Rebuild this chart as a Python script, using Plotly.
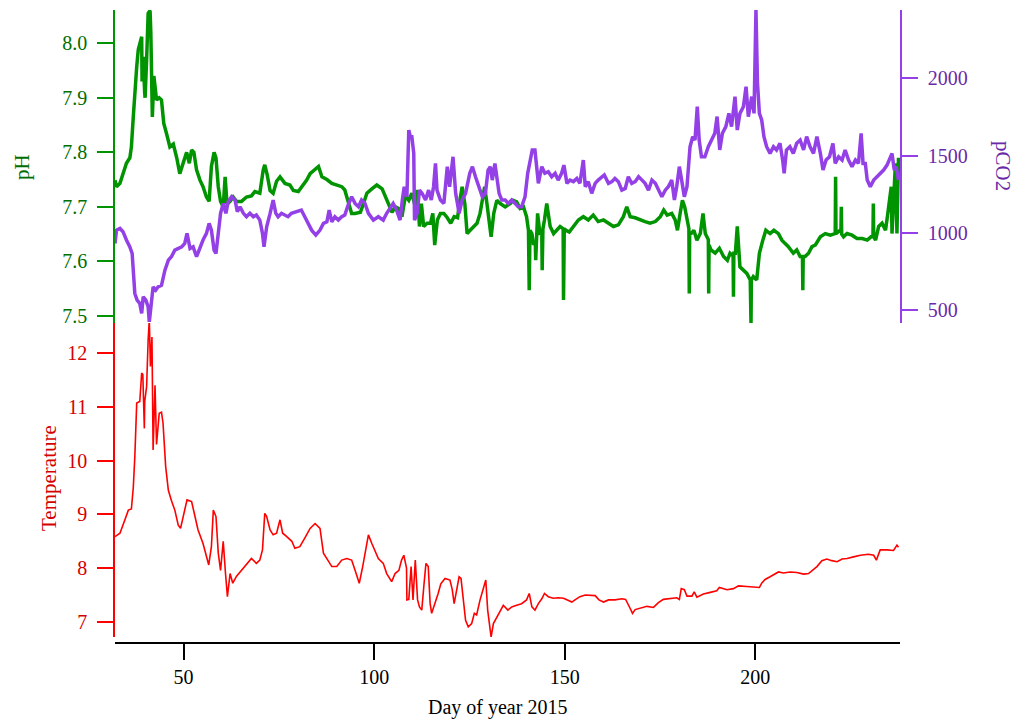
import plotly.graph_objects as go

# ---------------- data ----------------
ph_day = [32.0, 32.4, 33.3, 34.1, 35.0, 35.9, 36.3, 36.8, 37.2, 37.7, 38.1, 38.5, 39.0, 39.1, 39.4,
          39.8, 39.9, 40.3, 40.7, 41.2, 41.4, 41.8, 42.2, 42.9, 43.6, 44.2, 44.8, 45.5, 46.4, 47.3,
          48.2, 49.0, 49.9, 50.8, 51.5, 52.1, 52.7, 53.4, 54.3, 55.1, 56.0, 56.7, 57.3, 58.0, 58.5,
          59.1, 59.7, 60.4, 60.9, 61.4, 62.2, 63.0, 63.9, 65.2, 66.5, 67.8, 68.7, 70.0, 70.9, 71.3,
          71.9, 72.7, 73.5, 74.4, 75.3, 76.6, 77.9, 78.8, 80.1, 81.4, 82.3, 83.2, 84.5, 85.4, 86.3,
          87.6, 88.9, 90.2, 91.5, 92.3, 93.2, 94.1, 95.0, 96.4, 97.2, 98.1, 99.4, 100.7, 102.1, 102.9,
          103.8, 104.7, 105.6, 106.4, 107.3, 108.2, 109.1, 109.9, 110.8, 111.3, 111.9, 112.4, 113.0, 113.9, 114.8,
          115.4, 115.9, 116.6, 117.4, 118.3, 119.2, 120.1, 121.0, 121.9, 122.5, 123.1, 123.8, 124.4, 125.2, 126.1,
          127.0, 127.8, 128.3, 129.0, 129.6, 130.2, 130.7, 131.4, 132.2, 133.1, 134.4, 135.7, 136.5, 137.4, 138.3,
          139.2, 140.0, 140.5, 140.7, 140.9, 141.4, 141.8, 142.3, 142.4, 142.6, 142.9, 143.5, 144.0, 144.1, 144.3,
          144.7, 145.3, 146.2, 147.1, 147.9, 148.8, 149.6, 149.7, 149.9, 150.3, 151.2, 152.3, 153.6, 154.9, 156.2,
          157.5, 158.8, 160.2, 161.5, 162.8, 164.1, 165.4, 166.3, 167.2, 168.5, 169.8, 171.1, 172.4, 173.8, 175.1,
          176.0, 176.9, 178.1, 179.0, 179.6, 180.3, 180.9, 181.5, 182.1, 182.6, 182.7, 182.8, 183.2, 183.9, 184.7,
          185.6, 186.3, 186.9, 187.7, 187.8, 187.9, 188.4, 189.5, 190.6, 191.7, 192.7, 193.4, 194.2, 194.3, 194.4,
          194.8, 195.3, 196.0, 196.9, 197.8, 198.7, 198.9, 199.0, 199.5, 200.4, 201.1, 202.0, 202.8, 203.9, 204.9,
          206.1, 207.0, 207.8, 208.7, 210.0, 210.9, 211.8, 212.4, 212.5, 212.6, 213.1, 214.0, 214.9, 215.8, 217.1,
          218.4, 219.7, 220.6, 221.0, 221.1, 221.2, 222.3, 222.5, 222.6, 222.7, 223.2, 224.1, 225.4, 226.7, 228.1,
          229.4, 230.4, 230.9, 231.0, 231.1, 231.6, 232.4, 233.3, 234.2, 234.8, 235.3, 235.7, 235.9, 236.3, 236.8,
          237.2, 237.6]
ph_val = [7.749, 7.737, 7.743, 7.761, 7.78, 7.79, 7.81, 7.865, 7.92, 7.957, 7.988, 8.0, 8.012, 7.93, 7.975,
          7.908, 7.9, 7.97, 8.055, 8.06, 8.02, 7.865, 7.94, 7.896, 7.9, 7.896, 7.853, 7.835, 7.81, 7.815,
          7.79, 7.761, 7.78, 7.8, 7.78, 7.804, 7.8, 7.768, 7.749, 7.737, 7.718, 7.71, 7.774, 7.8, 7.79,
          7.737, 7.71, 7.70, 7.755, 7.705, 7.71, 7.718, 7.71, 7.71, 7.718, 7.72, 7.728, 7.725, 7.768, 7.777,
          7.76, 7.73, 7.725, 7.747, 7.755, 7.743, 7.74, 7.73, 7.728, 7.74, 7.749, 7.761, 7.77, 7.774, 7.755,
          7.75, 7.743, 7.74, 7.737, 7.731, 7.712, 7.688, 7.688, 7.69, 7.706, 7.725, 7.733, 7.74, 7.733, 7.72,
          7.706, 7.69, 7.70, 7.697, 7.682, 7.72, 7.712, 7.725, 7.70, 7.731, 7.664, 7.706, 7.664, 7.67, 7.67,
          7.688, 7.63, 7.676, 7.688, 7.688, 7.68, 7.67, 7.682, 7.68, 7.712, 7.737, 7.706, 7.651, 7.657, 7.664,
          7.67, 7.688, 7.712, 7.737, 7.706, 7.676, 7.645, 7.688, 7.712, 7.706, 7.70, 7.706, 7.712, 7.709, 7.697,
          7.70, 7.682, 7.657, 7.547, 7.657, 7.651, 7.633, 7.633, 7.602, 7.66, 7.688, 7.651, 7.65, 7.584, 7.66,
          7.676, 7.706, 7.664, 7.651, 7.657, 7.664, 7.66, 7.529, 7.66, 7.657, 7.654, 7.664, 7.676, 7.682, 7.676,
          7.685, 7.673, 7.676, 7.67, 7.664, 7.667, 7.682, 7.70, 7.682, 7.68, 7.676, 7.673, 7.67, 7.673, 7.682,
          7.694, 7.685, 7.688, 7.676, 7.657, 7.688, 7.712, 7.70, 7.676, 7.66, 7.541, 7.65, 7.651, 7.657, 7.639,
          7.651, 7.688, 7.651, 7.64, 7.541, 7.63, 7.621, 7.615, 7.624, 7.609, 7.602, 7.615, 7.61, 7.535, 7.615,
          7.615, 7.664, 7.59, 7.584, 7.578, 7.566, 7.486, 7.566, 7.572, 7.566, 7.615, 7.639, 7.657, 7.651, 7.657,
          7.651, 7.639, 7.633, 7.627, 7.615, 7.621, 7.609, 7.609, 7.547, 7.609, 7.609, 7.615, 7.627, 7.63, 7.645,
          7.651, 7.648, 7.651, 7.651, 7.755, 7.651, 7.657, 7.657, 7.70, 7.65, 7.645, 7.651, 7.648, 7.642, 7.642,
          7.639, 7.645, 7.645, 7.706, 7.645, 7.639, 7.664, 7.67, 7.657, 7.688, 7.712, 7.737, 7.651, 7.70, 7.78,
          7.651, 7.79]

pco2_day = [32.0, 32.4, 33.3, 34.1, 35.0, 35.9, 36.5, 36.8, 37.2, 37.8, 38.5, 39.0, 39.4, 40.1, 40.7,
            41.0, 41.6, 42.0, 42.7, 43.3, 44.2, 45.1, 46.0, 46.8, 47.7, 48.6, 49.5, 50.3, 50.9, 51.7,
            52.5, 53.4, 54.3, 55.1, 56.0, 56.7, 57.3, 58.0, 58.5, 59.1, 59.7, 60.4, 61.1, 61.7, 62.6,
            63.5, 64.1, 64.8, 65.7, 66.5, 67.4, 68.3, 69.1, 70.0, 70.7, 71.1, 71.8, 72.7, 73.5, 74.2,
            74.8, 75.7, 76.6, 77.4, 78.3, 79.7, 80.9, 81.8, 82.7, 83.6, 84.7, 85.8, 86.7, 87.6, 88.2,
            88.9, 89.7, 90.6, 91.5, 92.3, 93.2, 94.1, 95.0, 95.9, 96.7, 97.6, 98.5, 99.8, 101.1, 102.4,
            103.3, 104.2, 105.0, 105.9, 106.8, 107.4, 107.9, 108.6, 109.1, 109.5, 109.9, 110.4, 110.6, 111.3, 111.9,
            112.6, 113.5, 114.3, 115.0, 115.6, 116.1, 116.5, 117.4, 118.3, 119.2, 119.8, 120.7, 121.4, 122.3, 123.1,
            124.0, 125.1, 125.8, 126.6, 127.5, 128.4, 129.2, 129.9, 130.5, 131.0, 131.7, 132.2, 132.8, 133.5, 134.4,
            135.2, 136.1, 137.0, 137.8, 138.7, 139.6, 140.3, 140.9, 141.5, 142.2, 142.7, 143.1, 144.0, 144.8, 145.7,
            146.6, 147.5, 148.3, 149.2, 149.8, 150.6, 151.4, 152.3, 153.2, 154.0, 154.9, 155.4, 156.2, 157.1, 158.0,
            158.8, 159.7, 160.4, 161.5, 162.4, 163.2, 164.1, 165.0, 165.9, 166.7, 167.6, 168.5, 169.4, 170.3, 171.1,
            172.0, 172.9, 173.8, 174.6, 175.5, 176.4, 177.2, 178.1, 178.8, 179.4, 180.1, 180.7, 181.4, 182.1, 182.9,
            183.6, 184.2, 184.8, 185.3, 185.9, 186.8, 187.7, 188.5, 189.4, 190.0, 190.7, 191.4, 192.3, 193.1, 193.8,
            194.7, 195.3, 196.0, 196.9, 197.6, 198.2, 199.1, 199.7, 200.2, 200.6, 201.1, 201.7, 202.3, 203.0, 203.9,
            204.8, 205.6, 206.5, 207.2, 207.6, 208.2, 209.1, 210.0, 210.9, 211.8, 212.7, 213.5, 214.4, 215.3, 216.2,
            217.1, 217.8, 218.6, 219.5, 220.4, 221.0, 221.9, 222.8, 223.6, 224.5, 225.4, 226.3, 227.1, 227.8, 228.3,
            228.9, 229.4, 230.2, 231.1, 232.0, 232.8, 233.7, 234.6, 235.5, 235.9, 236.5, 237.0, 237.6]
pco2_val = [931, 1017, 1028, 1007, 953, 909, 866, 737, 607, 564, 543, 478, 586, 564, 521,
            424, 564, 650, 629, 650, 660, 758, 823, 845, 888, 898, 909, 931, 996, 898,
            909, 845, 909, 953, 996, 1061, 1017, 888, 866, 1017, 1126, 1190, 1126, 1201, 1233,
            1212, 1136, 1168, 1126, 1104, 1126, 1104, 1115, 1082, 996, 909, 1039, 1126, 1212, 1126,
            1104, 1126, 1115, 1104, 1126, 1136, 1147, 1104, 1061, 1017, 985, 1017, 1061, 1071, 1147,
            1071, 1104, 1082, 1104, 1115, 1180, 1233, 1190, 1168, 1212, 1190, 1126, 1082, 1104, 1082,
            1126, 1158, 1190, 1147, 1082, 1212, 1298, 1233, 1665, 1622, 1622, 1514, 1082, 1126, 1276,
            1255, 1212, 1276, 1212, 1298, 1449, 1276, 1212, 1190, 1428, 1298, 1492, 1255, 1126, 1212,
            1255, 1385, 1428, 1363, 1298, 1233, 1255, 1406, 1428, 1341, 1449, 1341, 1255, 1212, 1212,
            1190, 1212, 1190, 1168, 1168, 1233, 1385, 1449, 1536, 1536, 1385, 1320, 1428, 1385, 1395,
            1363, 1385, 1341, 1385, 1438, 1320, 1341, 1331, 1352, 1320, 1471, 1298, 1331, 1255, 1320,
            1341, 1363, 1374, 1320, 1331, 1352, 1331, 1276, 1287, 1363, 1320, 1331, 1363, 1341, 1320,
            1276, 1341, 1320, 1276, 1233, 1276, 1298, 1341, 1212, 1298, 1428, 1341, 1233, 1298, 1557,
            1622, 1600, 1816, 1600, 1492, 1492, 1557, 1600, 1644, 1752, 1536, 1644, 1687, 1773, 1687,
            1881, 1665, 1773, 1816, 1946, 1752, 1881, 1773, 2442, 1968, 1773, 1730, 1622, 1557, 1514,
            1557, 1536, 1579, 1471, 1385, 1536, 1557, 1514, 1579, 1600, 1536, 1622, 1557, 1514, 1622,
            1514, 1406, 1471, 1492, 1579, 1449, 1492, 1471, 1536, 1471, 1428, 1471, 1449, 1644, 1449,
            1449, 1341, 1298, 1341, 1363, 1385, 1406, 1438, 1492, 1514, 1406, 1428, 1341]

temp_day = [32.0, 33.3, 34.6, 35.5, 36.3, 36.8, 37.2, 37.7, 38.5, 39.0, 39.3, 39.6, 39.7, 39.8, 40.3,
            40.7, 41.0, 41.3, 41.7, 42.0, 42.5, 42.9, 43.6, 44.2, 44.6, 45.3, 46.0, 46.8, 47.7, 48.6,
            49.2, 49.9, 50.9, 52.1, 53.0, 53.8, 55.1, 56.0, 56.6, 57.3, 57.8, 58.5, 59.1, 59.7, 60.4,
            61.0, 61.5, 62.2, 62.9, 63.9, 65.2, 66.5, 67.8, 69.1, 70.0, 70.7, 71.3, 71.8, 72.7, 73.5,
            74.4, 75.3, 76.0, 77.0, 78.4, 79.2, 80.5, 81.8, 83.2, 84.5, 85.8, 86.7, 87.5, 88.9, 90.2,
            91.5, 92.8, 94.1, 95.0, 96.1, 97.0, 97.6, 98.5, 99.4, 100.2, 101.1, 102.4, 103.3, 104.6, 105.5,
            106.5, 107.2, 107.8, 108.5, 108.6, 109.1, 109.7, 110.2, 110.8, 111.4, 111.9, 112.5, 113.1, 113.6, 114.2,
            114.7, 115.1, 116.0, 116.8, 117.5, 118.6, 119.9, 120.5, 121.0, 121.7, 122.3, 122.8, 123.4, 124.0, 124.7,
            125.6, 126.3, 126.9, 127.8, 128.7, 129.3, 129.8, 130.4, 130.7, 131.3, 132.2, 133.1, 133.9, 135.1, 136.1,
            137.4, 138.7, 140.0, 140.7, 141.4, 142.2, 143.1, 144.0, 144.7, 145.7, 147.0, 148.3, 149.7, 150.6, 151.9,
            152.7, 154.0, 155.4, 156.7, 158.0, 159.0, 160.2, 161.5, 163.2, 165.0, 166.0, 167.2, 167.8, 168.5, 169.8,
            171.6, 173.3, 174.6, 175.9, 177.7, 179.4, 180.1, 180.6, 181.4, 182.1, 183.4, 184.0, 184.7, 186.4, 188.2,
            189.9, 190.6, 192.6, 194.3, 195.6, 197.8, 200.0, 201.1, 201.7, 202.6, 203.9, 205.2, 206.1, 207.4, 209.2,
            210.9, 212.7, 214.0, 214.9, 216.2, 217.5, 218.8, 220.1, 221.5, 222.8, 224.1, 225.8, 227.6, 229.7, 231.1,
            231.8, 232.8, 234.6, 236.3, 237.2, 237.6]
temp_val = [8.585, 8.65, 8.9, 9.08, 9.1, 9.5, 10.07, 11.07, 11.1, 11.63, 11.6, 11.05, 10.6, 11.1, 11.38,
            12.25, 12.62, 11.75, 12.3, 10.2, 11.4, 10.3, 10.88, 10.9, 10.7, 9.89, 9.45, 9.26, 9.08, 8.8,
            8.74, 8.96, 9.27, 9.24, 8.96, 8.71, 8.46, 8.21, 8.06, 8.4, 9.08, 8.96, 8.28, 7.96, 8.5,
            7.9, 7.47, 7.9, 7.72, 7.85, 7.96, 8.09, 8.18, 8.09, 8.15, 8.34, 9.02, 8.96, 8.71, 8.62,
            8.65, 8.9, 8.65, 8.59, 8.5, 8.37, 8.4, 8.56, 8.74, 8.83, 8.74, 8.28, 8.18, 8.03, 8.03,
            8.15, 8.18, 8.15, 7.96, 7.72, 8.03, 8.28, 8.62, 8.46, 8.34, 8.18, 8.09, 7.90, 7.75, 7.90,
            7.96, 8.15, 8.24, 8.0, 7.41, 7.42, 8.03, 7.41, 8.15, 7.41, 7.28, 7.22, 7.71, 8.09, 8.03,
            7.34, 7.16, 7.34, 7.53, 7.71, 7.81, 7.78, 7.6, 7.34, 7.6, 7.84, 7.81, 7.47, 7.03, 6.91,
            6.97, 7.16, 7.13, 7.41, 7.65, 7.78, 7.22, 6.85, 6.72, 6.97, 7.09, 7.22, 7.31, 7.22, 7.28,
            7.31, 7.34, 7.41, 7.53, 7.28, 7.22, 7.34, 7.43, 7.53, 7.47, 7.44, 7.45, 7.44, 7.41, 7.37,
            7.41, 7.47, 7.5, 7.5, 7.49, 7.41, 7.37, 7.41, 7.41, 7.43, 7.42, 7.25, 7.16, 7.23, 7.26,
            7.29, 7.27, 7.36, 7.42, 7.44, 7.45, 7.42, 7.62, 7.6, 7.48, 7.48, 7.56, 7.46, 7.52, 7.55,
            7.58, 7.64, 7.6, 7.62, 7.67, 7.66, 7.64, 7.64, 7.72, 7.79, 7.84, 7.89, 7.93, 7.91, 7.93,
            7.92, 7.89, 7.9, 7.96, 8.03, 8.14, 8.17, 8.14, 8.12, 8.17, 8.18, 8.21, 8.24, 8.26, 8.24,
            8.15, 8.34, 8.34, 8.33, 8.43, 8.39]

x_ticks = [50, 100, 150, 200]
ph_ticks = [7.5, 7.6, 7.7, 7.8, 7.9, 8.0]
ph_labels = ["7.5", "7.6", "7.7", "7.8", "7.9", "8.0"]
pco2_ticks = [500, 1000, 1500, 2000]
temp_ticks = [7, 8, 9, 10, 11, 12]

# ---------------- styling ----------------
FONT = "Liberation Serif, Times New Roman, serif"
GREEN = "#009400"
GREEN_T = "#006e00"
PURPLE = "#9340e6"
PURPLE_T = "#6a2aa8"
RED = "#ff0000"
RED_T = "#d40000"

fig = go.Figure()
fig.add_trace(go.Scatter(x=pco2_day, y=pco2_val, mode="lines", yaxis="y2",
                         line=dict(color=PURPLE, width=3.5), showlegend=False))
fig.add_trace(go.Scatter(x=ph_day, y=ph_val, mode="lines", yaxis="y",
                         line=dict(color=GREEN, width=3.5), showlegend=False))
fig.add_trace(go.Scatter(x=temp_day, y=temp_val, mode="lines", yaxis="y3",
                         line=dict(color=RED, width=1.6), showlegend=False))

W, H = 1017, 721
L, R, T, B = 115, 117, 10, 78
ph = H - T - B


def fy(py):
    return (H - B - py) / ph


def fx(px):
    return (px - L) / (W - L - R)


axis_common = dict(showgrid=False, zeroline=False, showline=True, ticks="outside",
                   ticklen=16, tickwidth=1.5, linewidth=1.5)

fig.update_layout(
    width=W, height=H,
    margin=dict(l=L, r=R, t=T, b=B, pad=0),
    paper_bgcolor="white", plot_bgcolor="white",
    font=dict(family=FONT, size=20, color="black"),
    showlegend=False,
    xaxis=dict(range=[32, 238], domain=[0, 1], anchor="free", position=0,
               tickvals=x_ticks, linecolor="black", tickcolor="black",
               tickfont=dict(family=FONT, size=20, color="black"), **axis_common),
    yaxis=dict(domain=[fy(323), 1.0], range=[7.487, 8.061], anchor="x", side="left",
               tickvals=ph_ticks, ticktext=ph_labels, linecolor=GREEN, tickcolor=GREEN,
               tickfont=dict(family=FONT, size=20, color=GREEN_T), ticklabelstandoff=6,
               **axis_common),
    yaxis2=dict(overlaying="y", range=[416, 2442], anchor="x", side="right",
                tickvals=pco2_ticks, linecolor=PURPLE, tickcolor=PURPLE,
                tickfont=dict(family=FONT, size=20, color=PURPLE_T), ticklabelstandoff=6,
                **axis_common),
    yaxis3=dict(domain=[fy(637), fy(323)], range=[6.72, 12.56], anchor="x", side="left",
                tickvals=temp_ticks, linecolor=RED, tickcolor=RED,
                tickfont=dict(family=FONT, size=20, color=RED_T), ticklabelstandoff=6,
                **axis_common),
    annotations=[
        dict(text="pH", xref="paper", yref="paper", x=fx(22), y=fy(167), textangle=-90,
             showarrow=False, font=dict(family=FONT, size=21, color=GREEN_T),
             xanchor="center", yanchor="middle"),
        dict(text="pCO2", xref="paper", yref="paper", x=fx(1003), y=fy(166), textangle=90,
             showarrow=False, font=dict(family=FONT, size=21, color=PURPLE_T),
             xanchor="center", yanchor="middle"),
        dict(text="Temperature", xref="paper", yref="paper", x=fx(49), y=fy(478), textangle=-90,
             showarrow=False, font=dict(family=FONT, size=21, color=RED_T),
             xanchor="center", yanchor="middle"),
        dict(text="Day of year 2015", xref="paper", yref="paper", x=fx(497), y=fy(707),
             showarrow=False, font=dict(family=FONT, size=20, color="black"),
             xanchor="center", yanchor="middle"),
    ],
)

fig.write_html("out.html", config={"displayModeBar": False},
               post_script="document.body.style.margin='0';document.body.style.padding='0';")
